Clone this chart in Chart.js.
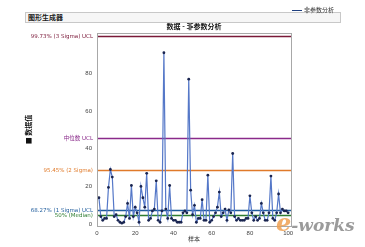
<!DOCTYPE html>
<html>
<head>
<meta charset="utf-8">
<script src="https://cdn.jsdelivr.net/npm/chart.js@4"></script>
<style>
    body { margin: 0; background: #fff; font-family: "Noto Sans CJK SC", "DejaVu Sans", sans-serif; }
    #wrap { position: relative; width: 365px; height: 247px; overflow: hidden; }
    #header { position: absolute; left: 25px; top: 12px; width: 312px; height: 9px; border: 1px solid #c8c8c8; background: #f6f6f6; font-size: 7px; font-weight: bold; line-height: 9px; padding-left: 2px; color: #222; }
    #legend { position: absolute; left: 292px; top: 6px; font-size: 6px; color: #333; line-height: 8px; }
    #legend span { display: inline-block; width: 10px; height: 0; border-top: 1px solid #1f3f80; vertical-align: middle; margin-right: 2px; }
    #logo { position: absolute; left: 276px; top: 208px; font: italic bold 17px "DejaVu Serif", serif; color: #8a8a8a; opacity: 0.85; }
    #logo b { color: #f0a050; font-size: 24px; }
    canvas { position: absolute; left: 0; top: 0; }
</style>
</head>
<body>
<div id="wrap">
    <canvas id="chart" width="365" height="247"></canvas>
    <div id="header">图形生成器</div>
    <div id="legend"><span></span>非参数分析</div>
    <div id="logo"><b>e</b>-works</div>
</div>
<script>
// 样本值
const seriesValues = [
    14, 4, 2, 3, 3, 19.5, 29, 25, 4, 5,
    2, 1, 0.5, 1, 4, 11, 3, 20.5, 4, 9,
    6, 1, 20, 14, 9, 27, 2, 3, 7, 8,
    23, 2, 1, 7, 91, 8, 3, 20.5, 3, 2,
    2, 1, 1, 1, 6, 7, 6, 77, 18, 5,
    10, 1, 3, 3, 13, 2, 2, 26, 1, 2,
    4, 6, 9, 17, 4, 6, 8, 2, 7.5, 6,
    37.5, 4, 2, 3, 2, 2, 2, 3, 3, 15,
    6, 2, 4, 2, 3, 11, 6, 2, 2, 6,
    25.5, 3, 2, 6, 16, 6, 8, 7, 7, 6
];

// 参考线
const refLabels = ['99.73% (3 Sigma) UCL', '中位数 UCL', '95.45% (2 Sigma)', '68.27% (1 Sigma) UCL', '50% (Median)'];
const refValues = [99.7, 46, 28.5, 7.4, 4.8];
const refColors = ['#7a1838', '#8a2a8a', '#e07a2a', '#1f5c9c', '#2e7d32'];

const yTicks = [0, 20, 40, 60, 80];
const xTicks = [0, 20, 40, 60, 80, 100];

const points = seriesValues.map((v, i) => ({ x: i + 1, y: v }));

// 画参考线和左侧标签
const refLinePlugin = {
    id: 'refLines',
    beforeDatasetsDraw(chart) {
        const ctx = chart.ctx;
        const area = chart.chartArea;
        const y = chart.scales.y;
        ctx.save();
        refValues.forEach((v, i) => {
            const py = Math.round(y.getPixelForValue(v)) + 0.5;
            ctx.strokeStyle = refColors[i];
            ctx.lineWidth = 1.4;
            ctx.beginPath();
            ctx.moveTo(area.left, py);
            ctx.lineTo(area.right, py);
            ctx.stroke();
            ctx.fillStyle = refColors[i];
            ctx.font = '5.5px "DejaVu Sans", "Noto Sans CJK SC"';
            ctx.textAlign = 'right';
            ctx.textBaseline = 'middle';
            ctx.fillText(refLabels[i], area.left - 4, py);
        });
        ctx.restore();
    },
    afterDraw(chart) {
        const ctx = chart.ctx;
        const area = chart.chartArea;
        ctx.save();
        ctx.strokeStyle = '#a8a8a8';
        ctx.lineWidth = 1;
        ctx.strokeRect(area.left + 0.5, area.top + 0.5, area.right - area.left, area.bottom - area.top);
        ctx.fillStyle = '#111';
        ctx.font = 'bold 7px "Noto Sans CJK SC"';
        ctx.textAlign = 'center';
        ctx.fillText('数据 - 非参数分析', (area.left + area.right) / 2, area.top - 4);
        ctx.restore();
    }
};

let ctx = document.getElementById('chart').getContext('2d');
new Chart(ctx, {
    type: 'line',
    data: {
        datasets: [{
            label: '非参数分析',
            data: points,
            borderColor: '#5578c8',
            borderWidth: 1.2,
            pointRadius: 1.4,
            pointBackgroundColor: '#1a2550',
            pointBorderWidth: 0,
            tension: 0
        }]
    },
    options: {
        responsive: false,
        animation: false,
        layout: { padding: { left: 0, right: 74, top: 33, bottom: 0 } },
        plugins: { legend: { display: false }, tooltip: { enabled: false } },
        scales: {
            x: {
                type: 'linear',
                min: 0,
                max: 101.5,
                afterBuildTicks: s => { s.ticks = xTicks.map(v => ({ value: v })); },
                afterFit: s => { s.height = 21; },
                grid: { display: false, drawTicks: true, tickLength: 3, color: '#999' },
                border: { color: '#999' },
                ticks: { color: '#444', font: { size: 6 }, padding: 1, maxRotation: 0 },
                title: { display: true, text: '样本', color: '#333', font: { size: 6, family: 'Noto Sans CJK SC' }, padding: { top: 0, bottom: 5 } }
            },
            y: {
                min: -1,
                max: 101.5,
                afterBuildTicks: s => { s.ticks = yTicks.map(v => ({ value: v })); },
                afterFit: s => { s.width = 97; },
                grid: { display: false, tickLength: 3, color: '#999' },
                border: { color: '#999' },
                ticks: { color: '#444', font: { size: 6 }, padding: 2 },
                title: { display: true, text: '■ 数据值', color: '#111', font: { size: 7, weight: 'bold', family: 'Noto Sans CJK SC' }, padding: { top: 24, bottom: 0 } }
            }
        }
    },
    plugins: [refLinePlugin]
});
</script>
</body>
</html>
